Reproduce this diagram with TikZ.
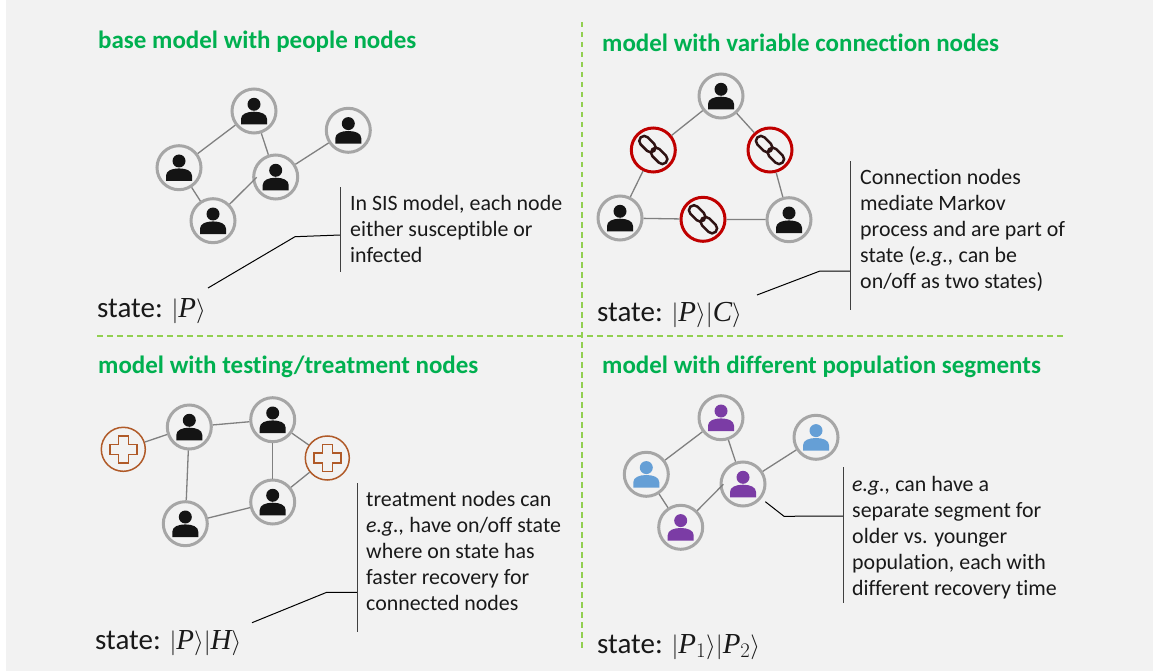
\documentclass[tikz,border=0pt]{standalone}
\usepackage{fontspec}
\setmainfont[Ligatures=CommonOff]{Carlito}
\newfontfamily\ketserif{Liberation Serif}
\newcommand{\kv}[1]{\mbox{\ketserif\itshape #1}}
\definecolor{panelbg}{HTML}{F2F2F2}
\definecolor{titlegreen}{HTML}{00B050}
\definecolor{dashgreen}{HTML}{92D050}
\definecolor{ringgray}{HTML}{A6A6A6}
\definecolor{edgegray}{HTML}{808080}
\definecolor{iconblack}{HTML}{141414}
\definecolor{linkred}{HTML}{C00000}
\definecolor{chaindark}{HTML}{2E1212}
\definecolor{crossbrown}{HTML}{B05A28}
\definecolor{segpurple}{HTML}{7B3CA5}
\definecolor{segblue}{HTML}{659FD6}
\definecolor{calloutgray}{HTML}{404040}
\tikzset{
  ringnode/.style={circle,draw=ringgray,line width=3pt,minimum size=44pt,inner sep=0pt},
  linknode/.style={circle,draw=linkred,line width=3pt,minimum size=44pt,inner sep=0pt},
  crossnode/.style={circle,draw=crossbrown,line width=1.5pt,minimum size=44pt,inner sep=0pt},
  edgeline/.style={draw=edgegray,line width=1.3pt},
  calloutline/.style={draw=black,line width=1pt},
  calloutbar/.style={draw=calloutgray,line width=1.2pt},
  sepline/.style={draw=dashgreen,line width=1.3pt,dash pattern=on 5.5pt off 4.5pt},
  titletext/.style={anchor=base west,inner sep=0pt,text=titlegreen,font=\fontsize{25}{30}\selectfont\bfseries},
  bodytext/.style={anchor=north west,inner sep=0pt,align=left,text=black!90,font=\fontsize{21.9}{26}\selectfont},
  statetext/.style={anchor=base west,inner sep=0pt,text=black!90,font=\fontsize{29}{34}\selectfont},
}
\newcommand{\pplnode}[4]{%
  \node[ringnode] (#1) at (#2,#3) {};
  \fill[#4,shift={(#2,#3)}] (0,-6.7) circle (6.5pt);
  \fill[#4,shift={(#2,#3)}] (-13,13.3) -- (-13,8) .. controls (-13,3) and (-7,0.7) .. (0,0.7)
     .. controls (7,0.7) and (13,3) .. (13,8) -- (13,13.3) -- cycle;
}
\newcommand{\chainnode}[3]{%
  \node[linknode] (#1) at (#2,#3) {};
  \begin{scope}[shift={(#2,#3)}]
    \draw[chaindark,line width=2.5pt,rounded corners=4.9pt,rotate=-45,shift={(-8.3,0)}] (-9.5,-5) rectangle (9.5,5);
    \draw[chaindark,line width=2.5pt,rounded corners=4.9pt,rotate=-45,shift={(8.3,0)}] (-9.5,-5) rectangle (9.5,5);
  \end{scope}
}
\newcommand{\crossicon}[3]{%
  \node[crossnode] (#1) at (#2,#3) {};
  \draw[crossbrown,line width=1.5pt,shift={(#2,#3)}] (-5,-13.5) -- (5,-13.5) -- (5,-5) -- (13.5,-5) -- (13.5,5) -- (5,5)
     -- (5,13.5) -- (-5,13.5) -- (-5,5) -- (-13.5,5) -- (-13.5,-5) -- (-5,-5) -- cycle;
}
\begin{document}
\begin{tikzpicture}[x=1pt,y=-1pt]
\useasboundingbox (0,0) rectangle (1153,671);
\fill[panelbg] (6,0) rectangle (1153,671);

% separators
\coordinate (vtop) at (582,22);
\coordinate (vbot) at (582,652);
\coordinate (hleft) at (97,336);
\coordinate (hright) at (1063,336);
\draw[sepline] (vtop) -- (vbot);
\draw[sepline] (hleft) -- (hright);

% titles
\node[titletext] (t1) at (98,49) {base model with people nodes};
\node[titletext] (t2) at (602,52) {model with variable connection nodes};
\node[titletext] (t3) at (98,373) {model with testing/treatment nodes};
\node[titletext] (t4) at (602,373) {model with different population segments};

% panel 1
\pplnode{a1}{254}{111}{iconblack}
\pplnode{b1}{179}{167.7}{iconblack}
\pplnode{c1}{275.7}{177}{iconblack}
\pplnode{d1}{348.3}{130.3}{iconblack}
\pplnode{e1}{213}{220.7}{iconblack}
\coordinate (c1in) at (256.7,177.3);
\draw[edgeline] (a1) -- (b1);
\draw[edgeline] (a1) -- (c1);
\draw[edgeline] (c1) -- (d1);
\draw[edgeline] (b1) -- (e1);
\draw[edgeline] (e1) -- (c1in);
\node[bodytext] (n1) at (350,195.5) {In SIS model, each node\\either susceptible or\\infected};
\node[statetext] (s1) at (97,317) {state: $\bigl|\kv{P}\bigr\rangle$};
\coordinate (k1a) at (208,288);
\coordinate (k1b) at (295,236.7);
\coordinate (k1c) at (340.3,235);
\coordinate (k1t) at (340.3,187.3);
\coordinate (k1d) at (340.3,272);
\draw[calloutline] (k1a) -- (k1b) -- (k1c);
\draw[calloutbar] (k1t) -- (k1d);

% panel 2
\pplnode{a2}{721}{96}{iconblack}
\pplnode{b2}{620}{218}{iconblack}
\pplnode{c2}{789}{219.7}{iconblack}
\chainnode{l2}{653.3}{150}
\chainnode{r2}{770}{150}
\chainnode{m2}{703}{219.3}
\draw[edgeline] (a2) -- (l2);
\draw[edgeline] (a2) -- (r2);
\draw[edgeline] (l2) -- (b2);
\draw[edgeline] (r2) -- (c2);
\draw[edgeline] (b2) -- (m2);
\draw[edgeline] (m2) -- (c2);
\node[bodytext] (n2) at (860,169) {Connection nodes\\mediate Markov\\process and are part of\\state (\textit{e.g.,} can be\\on/off as two states)};
\node[statetext] (s2) at (597,321) {state: $\bigl|\kv{P}\bigr\rangle\bigl|\kv{C}\bigr\rangle$};
\coordinate (k2a) at (757,295);
\coordinate (k2b) at (820,271);
\coordinate (k2c) at (850.3,271);
\coordinate (k2t) at (850.3,161.3);
\coordinate (k2d) at (850.3,310);
\draw[calloutline] (k2a) -- (k2b) -- (k2c);
\draw[calloutbar] (k2t) -- (k2d);

% panel 3
\crossicon{h1}{123.3}{449.3}
\crossicon{h2}{327.3}{458}
\pplnode{a3}{189.3}{427}{iconblack}
\pplnode{b3}{272.7}{419.7}{iconblack}
\pplnode{c3}{272.7}{502}{iconblack}
\pplnode{d3}{185.3}{523.7}{iconblack}
\draw[edgeline] (h1) -- (a3);
\draw[edgeline] (a3) -- (b3);
\draw[edgeline] (b3) -- (h2);
\draw[edgeline] (b3) -- (c3);
\draw[edgeline] (c3) -- (h2);
\draw[edgeline] (a3) -- (d3);
\draw[edgeline] (d3) -- (c3);
\node[bodytext] (n3) at (366,491) {treatment nodes can\\\textit{e.g.,} have on/off state\\where on state has\\faster recovery for\\connected nodes};
\node[statetext] (s3) at (95,649) {state: $\bigl|\kv{P}\bigr\rangle\bigl|\kv{H}\bigr\rangle$};
\coordinate (k3a) at (252,622.7);
\coordinate (k3b) at (326.7,592.3);
\coordinate (k3c) at (357.3,592.3);
\coordinate (k3t) at (357.3,483.3);
\coordinate (k3d) at (357.3,631.7);
\draw[calloutline] (k3a) -- (k3b) -- (k3c);
\draw[calloutbar] (k3t) -- (k3d);

% panel 4
\pplnode{a4}{721}{417.7}{segpurple}
\pplnode{b4}{646.3}{474.3}{segblue}
\pplnode{c4}{743}{484}{segpurple}
\pplnode{d4}{816}{437.3}{segblue}
\pplnode{e4}{680.7}{527.3}{segpurple}
\coordinate (c4in) at (723.3,484.3);
\draw[edgeline] (a4) -- (b4);
\draw[edgeline] (a4) -- (c4);
\draw[edgeline] (c4) -- (d4);
\draw[edgeline] (b4) -- (e4);
\draw[edgeline] (e4) -- (c4in);
\node[bodytext] (n4) at (852,476) {\textit{e.g.,} can have a\\separate segment for\\older vs. younger\\population, each with\\different recovery time};
\node[statetext] (s4) at (597,653) {state: $\bigl|\kv{P}_1\bigr\rangle\bigl|\kv{P}_2\bigr\rangle$};
\coordinate (k4a) at (765.3,501.7);
\coordinate (k4b) at (784,516.3);
\coordinate (k4c) at (843.6,516);
\coordinate (k4t) at (843.6,467.3);
\coordinate (k4d) at (843.6,603);
\draw[calloutline] (k4a) -- (k4b) -- (k4c);
\draw[calloutbar] (k4t) -- (k4d);
\end{tikzpicture}
\end{document}
